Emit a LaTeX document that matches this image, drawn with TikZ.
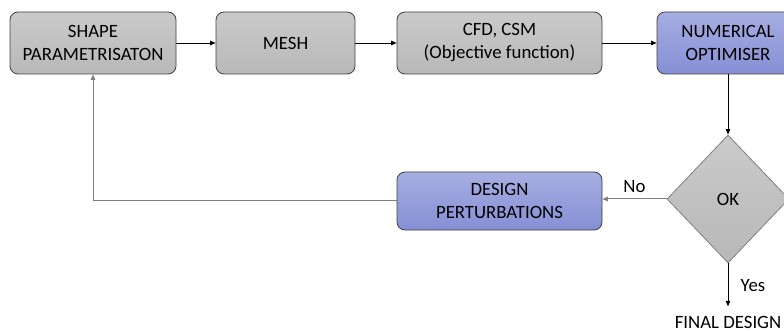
\documentclass[tikz,border=0pt]{standalone}
\usepackage{fontspec}
\setmainfont{Carlito}
\usetikzlibrary{arrows.meta,shapes.geometric}
\definecolor{boxline}{HTML}{404040}
\definecolor{greytop}{HTML}{CACACA}
\definecolor{greybot}{HTML}{B8B8B8}
\definecolor{bluetop}{HTML}{A7AEE2}
\definecolor{bluebot}{HTML}{858FD4}
\definecolor{returnline}{HTML}{7F7F7F}
\begin{document}
\begin{tikzpicture}[x=1pt,y=-1pt,
  font=\fontsize{18.8}{23}\selectfont,
  stagebox/.style={draw=boxline, line width=0.8pt, rounded corners=8pt,
    align=center, inner sep=0pt, minimum height=62pt},
  greybox/.style={stagebox, top color=greytop, bottom color=greybot},
  bluebox/.style={stagebox, top color=bluetop, bottom color=bluebot},
  decision/.style={diamond, draw=returnline, line width=0.8pt,
    top color=greytop, bottom color=greybot, inner sep=0pt,
    minimum width=122pt, minimum height=128pt},
  flow/.style={draw=black, line width=0.8pt,
    -{Triangle[length=5.5pt,width=4.5pt]}},
  backflow/.style={flow, draw=returnline, line width=1pt}]
\clip (0,0) rectangle (784,331);

% process stages along the top row
\node[greybox, minimum width=166pt] (shape) at (93,43) {SHAPE\\PARAMETRISATON};
\node[greybox, minimum width=139pt] (mesh) at (285.5,43) {MESH};
\node[greybox, minimum width=205pt] (cfd) at (499.5,43) {CFD, CSM\\(Objective function)};
\node[bluebox, minimum width=142pt] (opt) at (728,43) {NUMERICAL\\OPTIMISER};

% convergence check and design update
\node[decision] (ok) at (728,199) {OK};
\node[bluebox, minimum width=205pt, minimum height=58pt] (pert) at (499.5,201) {DESIGN\\PERTURBATIONS};
\node (final) at (728,322) {FINAL DESIGN};

% connectors
\draw[flow] (shape) -- (mesh);
\draw[flow] (mesh) -- (cfd);
\draw[flow] (cfd) -- (opt);
\draw[flow] (opt) -- (ok);
\draw[backflow] (ok.west) -- (ok.west -| pert.east)
  node[midway, above=3pt, black] {No};
\draw[flow, shorten >=6pt] (ok.south) -- (final.north)
  node[pos=0.45, right=9pt] {Yes};
\draw[backflow] (pert.west) -| (shape.south);
\end{tikzpicture}
\end{document}
